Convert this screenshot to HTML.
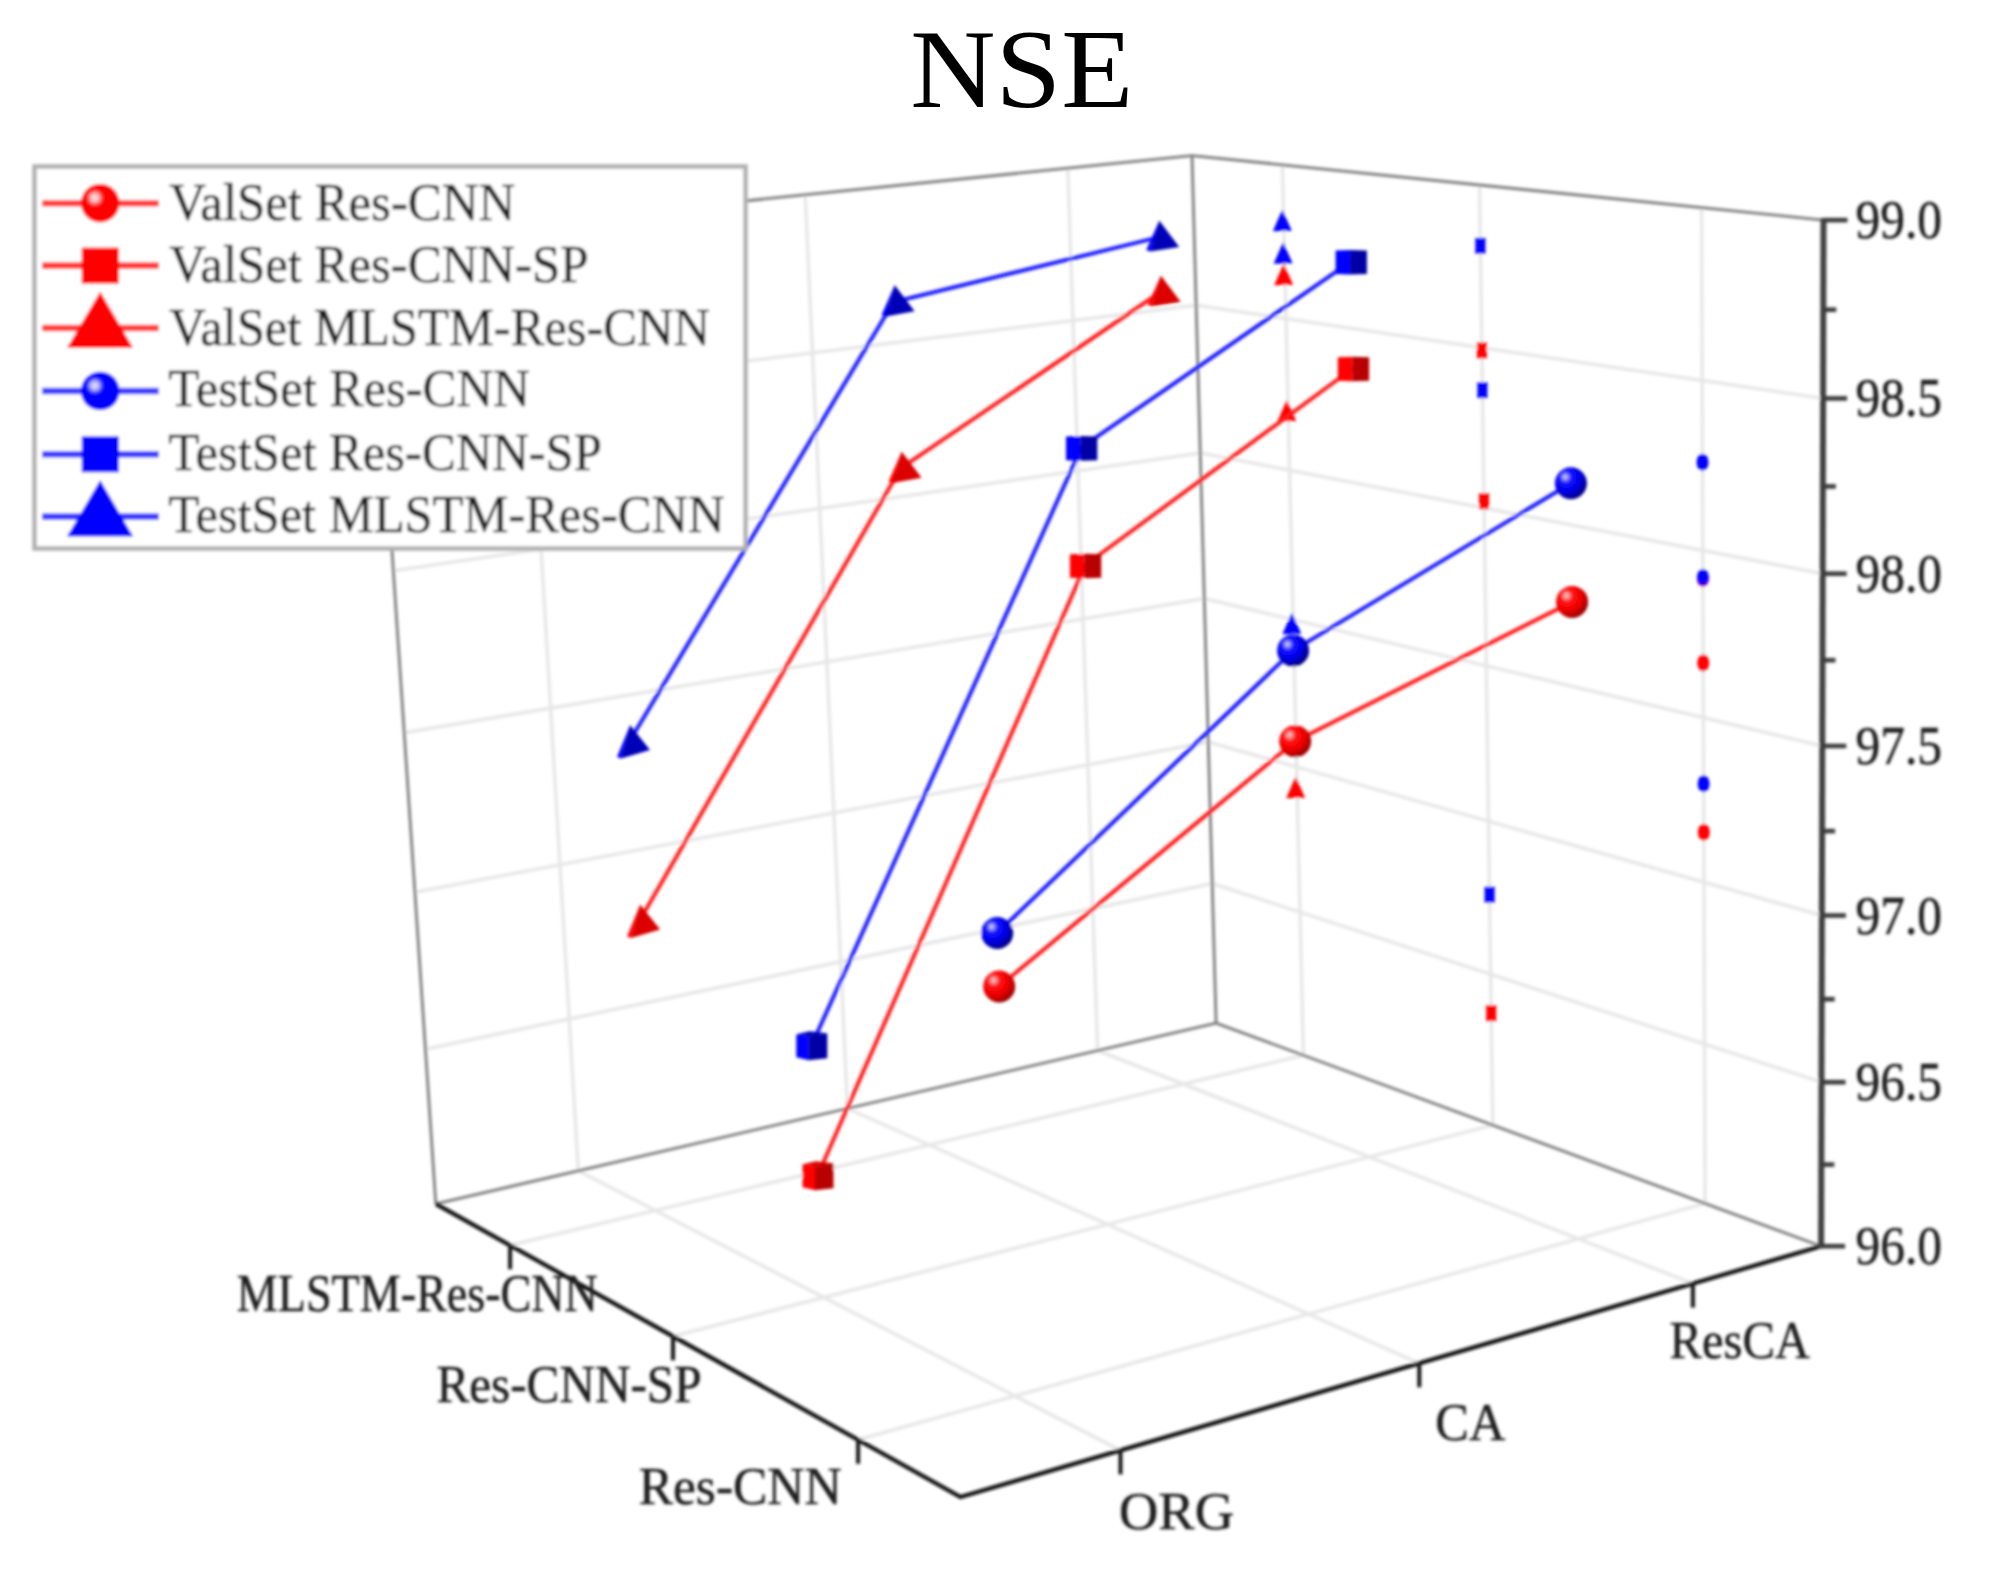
<!DOCTYPE html>
<html><head><meta charset="utf-8"><title>NSE</title>
<style>
html,body{margin:0;padding:0;background:#fff}
svg{display:block}
text{font-family:"Liberation Serif","Times New Roman",serif;fill:#1c1c1c;stroke:#1c1c1c;stroke-width:0.5}
.ti{fill:#000;stroke:none}
.g{stroke:#e7e7e7;stroke-width:3.5}
.e{stroke:#7c7c7c;stroke-width:2.8}
.ax{stroke:#111;stroke-width:4.2;fill:none;stroke-linejoin:miter}
.zx{stroke:#404040;stroke-width:6}
.tk{stroke:#161616;stroke-width:4}
.zt{stroke:#3a3a3a;stroke-width:4.6}
</style></head><body>
<svg width="1998" height="1595" viewBox="0 0 1998 1595">
<defs>
<radialGradient id="gr" cx="0.36" cy="0.34" r="0.7" fx="0.32" fy="0.3"><stop offset="0" stop-color="#ffd8d8"/><stop offset="0.12" stop-color="#ff9090"/><stop offset="0.28" stop-color="#ff1010"/><stop offset="0.62" stop-color="#f00000"/><stop offset="1" stop-color="#900000"/></radialGradient>
<radialGradient id="gb" cx="0.36" cy="0.34" r="0.7" fx="0.32" fy="0.3"><stop offset="0" stop-color="#d8d8ff"/><stop offset="0.12" stop-color="#9090ff"/><stop offset="0.28" stop-color="#1010ff"/><stop offset="0.62" stop-color="#0000e8"/><stop offset="1" stop-color="#000078"/></radialGradient>
<radialGradient id="lr" cx="0.36" cy="0.36" r="0.7" fx="0.36" fy="0.36"><stop offset="0" stop-color="#ffe8e8"/><stop offset="0.16" stop-color="#ffb0b0"/><stop offset="0.34" stop-color="#ff0000"/><stop offset="1" stop-color="#ff0000"/></radialGradient>
<radialGradient id="lb" cx="0.36" cy="0.36" r="0.7" fx="0.36" fy="0.36"><stop offset="0" stop-color="#e8e8ff"/><stop offset="0.16" stop-color="#b0b0ff"/><stop offset="0.34" stop-color="#0000ff"/><stop offset="1" stop-color="#0000ff"/></radialGradient>
<filter id="bl" x="0" y="0" width="100%" height="100%" filterUnits="userSpaceOnUse"><feGaussianBlur stdDeviation="1.4"/></filter>
</defs>
<rect width="1998" height="1595" fill="#fff"/>
<g filter="url(#bl)">
<g id="grid"><line x1="1120.5" y1="1450.4" x2="578.3" y2="1170.8" class="g"/>
<line x1="858.1" y1="1439.8" x2="1705.1" y2="1203.4" class="g"/>
<line x1="578.3" y1="1170.8" x2="521.6" y2="223.6" class="g"/>
<line x1="1705.1" y1="1203.4" x2="1701.6" y2="207.7" class="g"/>
<line x1="1419.3" y1="1363.3" x2="847.5" y2="1108.5" class="g"/>
<line x1="673" y1="1336.3" x2="1492.8" y2="1125.1" class="g"/>
<line x1="847.5" y1="1108.5" x2="805.2" y2="194.8" class="g"/>
<line x1="1492.8" y1="1125.1" x2="1479.5" y2="185" class="g"/>
<line x1="1692.9" y1="1283.6" x2="1097.6" y2="1050.5" class="g"/>
<line x1="510.1" y1="1245.3" x2="1303.4" y2="1055.3" class="g"/>
<line x1="1097.6" y1="1050.5" x2="1067.8" y2="168.2" class="g"/>
<line x1="1303.4" y1="1055.3" x2="1282.4" y2="164.8" class="g"/>
<line x1="425.5" y1="1049.2" x2="1212.2" y2="883.5" class="g"/>
<line x1="1212.2" y1="883.5" x2="1821.5" y2="1082.2" class="g"/>
<line x1="414.9" y1="892.2" x2="1208.3" y2="742" class="g"/>
<line x1="1208.3" y1="742" x2="1821.9" y2="915.5" class="g"/>
<line x1="404.2" y1="732.7" x2="1204.3" y2="598.5" class="g"/>
<line x1="1204.3" y1="598.5" x2="1822.3" y2="746" class="g"/>
<line x1="393.3" y1="570.7" x2="1200.2" y2="452.9" class="g"/>
<line x1="1200.2" y1="452.9" x2="1822.7" y2="573.7" class="g"/>
<line x1="382.3" y1="406.1" x2="1196.1" y2="305.3" class="g"/>
<line x1="1196.1" y1="305.3" x2="1823.1" y2="398.4" class="g"/></g>
<g id="edges"><line x1="435.8" y1="1203.8" x2="1216.1" y2="1023.1" class="e"/>
<line x1="1216.1" y1="1023.1" x2="1821.1" y2="1246.2" class="e"/>
<line x1="1216.1" y1="1023.1" x2="1192" y2="155.6" class="e"/>
<line x1="435.8" y1="1203.8" x2="371.1" y2="238.8" class="e"/>
<line x1="371.1" y1="238.8" x2="1192" y2="155.6" class="e"/>
<line x1="1192" y1="155.6" x2="1823.5" y2="220.1" class="e"/></g>
<g id="axes"><polyline points="435.8,1203.8 960.5,1497 1821.1,1246.2" class="ax"/>
<line x1="1821.1" y1="1248.2" x2="1823.5" y2="218.1" class="zx"/>
<line x1="1120.5" y1="1449.4" x2="1120.5" y2="1474.4" class="tk"/>
<line x1="858.1" y1="1438.8" x2="858.1" y2="1463.8" class="tk"/>
<line x1="1419.3" y1="1362.3" x2="1419.3" y2="1387.3" class="tk"/>
<line x1="673" y1="1335.3" x2="673" y2="1360.3" class="tk"/>
<line x1="1692.9" y1="1282.6" x2="1692.9" y2="1307.6" class="tk"/>
<line x1="510.1" y1="1244.3" x2="510.1" y2="1269.3" class="tk"/>
<line x1="1821.1" y1="1246.2" x2="1845.1" y2="1246.2" class="zt"/>
<line x1="1821.3" y1="1164.6" x2="1834.3" y2="1164.6" class="zt"/>
<line x1="1821.5" y1="1082.2" x2="1845.5" y2="1082.2" class="zt"/>
<line x1="1821.7" y1="999.2" x2="1834.7" y2="999.2" class="zt"/>
<line x1="1821.9" y1="915.5" x2="1845.9" y2="915.5" class="zt"/>
<line x1="1822.1" y1="831.1" x2="1835.1" y2="831.1" class="zt"/>
<line x1="1822.3" y1="746" x2="1846.3" y2="746" class="zt"/>
<line x1="1822.5" y1="660.2" x2="1835.5" y2="660.2" class="zt"/>
<line x1="1822.7" y1="573.7" x2="1846.7" y2="573.7" class="zt"/>
<line x1="1822.9" y1="486.4" x2="1835.9" y2="486.4" class="zt"/>
<line x1="1823.1" y1="398.4" x2="1847.1" y2="398.4" class="zt"/>
<line x1="1823.3" y1="309.7" x2="1836.3" y2="309.7" class="zt"/>
<line x1="1823.5" y1="220.1" x2="1847.5" y2="220.1" class="zt"/></g>
<g id="labels"><text x="1855.5" y="1264.2" font-size="54" text-anchor="start" class="lb" textLength="86.5" lengthAdjust="spacingAndGlyphs">96.0</text>
<text x="1855.5" y="1100.2" font-size="54" text-anchor="start" class="lb" textLength="86.5" lengthAdjust="spacingAndGlyphs">96.5</text>
<text x="1855.5" y="933.5" font-size="54" text-anchor="start" class="lb" textLength="86.5" lengthAdjust="spacingAndGlyphs">97.0</text>
<text x="1855.5" y="764" font-size="54" text-anchor="start" class="lb" textLength="86.5" lengthAdjust="spacingAndGlyphs">97.5</text>
<text x="1855.5" y="591.7" font-size="54" text-anchor="start" class="lb" textLength="86.5" lengthAdjust="spacingAndGlyphs">98.0</text>
<text x="1855.5" y="416.4" font-size="54" text-anchor="start" class="lb" textLength="86.5" lengthAdjust="spacingAndGlyphs">98.5</text>
<text x="1855.5" y="238.1" font-size="54" text-anchor="start" class="lb" textLength="86.5" lengthAdjust="spacingAndGlyphs">99.0</text>
<text x="236.8" y="1311.3" font-size="53" text-anchor="start" class="lb" textLength="361" lengthAdjust="spacingAndGlyphs">MLSTM-Res-CNN</text>
<text x="436.5" y="1401.5" font-size="53" text-anchor="start" class="lb" textLength="265" lengthAdjust="spacingAndGlyphs">Res-CNN-SP</text>
<text x="638.7" y="1504" font-size="53" text-anchor="start" class="lb" textLength="203" lengthAdjust="spacingAndGlyphs">Res-CNN</text>
<text x="1119" y="1529.4" font-size="53" text-anchor="start" class="lb" textLength="115" lengthAdjust="spacingAndGlyphs">ORG</text>
<text x="1435.3" y="1440.4" font-size="53" text-anchor="start" class="lb" textLength="70" lengthAdjust="spacingAndGlyphs">CA</text>
<text x="1669.5" y="1357.6" font-size="53" text-anchor="start" class="lb" textLength="140.5" lengthAdjust="spacingAndGlyphs">ResCA</text></g>
<g id="proj"><ellipse cx="1703.8" cy="832.2" rx="6" ry="8.5" fill="#ff0000"/>
<ellipse cx="1703.2" cy="663" rx="6" ry="8.5" fill="#ff0000"/>
<ellipse cx="1702.9" cy="578.6" rx="6" ry="8.5" fill="#ff0000"/>
<ellipse cx="1703.6" cy="783.8" rx="6" ry="8.5" fill="#0000ff"/>
<ellipse cx="1702.9" cy="577.6" rx="6" ry="8.5" fill="#0000ff"/>
<ellipse cx="1702.5" cy="462.2" rx="6" ry="8.5" fill="#0000ff"/>
<rect x="1486.2" y="1005.2" width="10" height="16" fill="#ff0000"/>
<rect x="1479" y="493.2" width="10" height="16" fill="#ff0000"/>
<rect x="1476.9" y="342.5" width="10" height="16" fill="#ff0000"/>
<rect x="1484.6" y="886.7" width="10" height="16" fill="#0000ff"/>
<rect x="1477.4" y="382.2" width="10" height="16" fill="#0000ff"/>
<rect x="1475.4" y="237.8" width="10" height="16" fill="#0000ff"/>
<polygon points="1295.6,776.8 1286.1,798.3 1305.1,797.8" fill="#ff0000"/>
<polygon points="1286.8,399.9 1277.3,421.4 1296.3,420.9" fill="#ff0000"/>
<polygon points="1283.6,263.8 1274.1,285.3 1293.1,284.8" fill="#ff0000"/>
<polygon points="1291.8,612.7 1282.3,634.2 1301.3,633.7" fill="#0000ff"/>
<polygon points="1283.1,242.3 1273.6,263.8 1292.6,263.3" fill="#0000ff"/>
<polygon points="1282.3,209.7 1272.8,231.2 1291.8,230.7" fill="#0000ff"/></g>
<g id="lines"><polyline points="999.2,986.5 1295.2,741.2 1572.1,601.9" fill="none" stroke="#ff1c1c" stroke-width="4"/>
<polyline points="997.2,933 1293.1,650.5 1570.9,483.2" fill="none" stroke="#1c1cff" stroke-width="4"/>
<polyline points="818,1174.8 1085.4,565 1353.3,368" fill="none" stroke="#ff1c1c" stroke-width="4"/>
<polyline points="811.8,1044.8 1081.5,447.4 1351.1,261.3" fill="none" stroke="#1c1cff" stroke-width="4"/>
<polyline points="639.1,921.4 900.6,468.4 1159.8,292.5" fill="none" stroke="#ff1c1c" stroke-width="4"/>
<polyline points="629,742 893.6,302 1158.2,237.4" fill="none" stroke="#1c1cff" stroke-width="4"/></g>
<g id="markers"><circle cx="999.2" cy="986.5" r="16" fill="url(#gr)"/>
<circle cx="1295.2" cy="741.2" r="16" fill="url(#gr)"/>
<circle cx="1572.1" cy="601.9" r="16" fill="url(#gr)"/>
<circle cx="997.2" cy="933" r="16" fill="url(#gb)"/>
<circle cx="1293.1" cy="650.5" r="16" fill="url(#gb)"/>
<circle cx="1570.9" cy="483.2" r="16" fill="url(#gb)"/>
<polygon points="802.5,1164.3 816,1161.3 833.5,1163.3 815,1166.3" fill="#dc0000"/><polygon points="802.5,1164.3 815,1166.3 815,1190.3 802.5,1187.3" fill="#ff0000"/><polygon points="815,1166.3 833.5,1163.3 833.5,1188.3 815,1190.3" fill="#b80000"/>
<polygon points="1069.9,554.2 1084.4,553.7 1084.4,578.3 1069.9,577.8" fill="#ff0000"/><polygon points="1084.4,553.7 1101.2,554.2 1101.2,577.8 1084.4,578.3" fill="#b80000"/>
<polygon points="1337.8,357.2 1352.3,356.7 1352.3,381.3 1337.8,380.8" fill="#ff0000"/><polygon points="1352.3,356.7 1369.1,357.2 1369.1,380.8 1352.3,381.3" fill="#b80000"/>
<polygon points="796.3,1034.3 809.8,1031.3 827.3,1033.3 808.8,1036.3" fill="#0000b8"/><polygon points="796.3,1034.3 808.8,1036.3 808.8,1060.3 796.3,1057.3" fill="#0000ff"/><polygon points="808.8,1036.3 827.3,1033.3 827.3,1058.3 808.8,1060.3" fill="#0000a4"/>
<polygon points="1066,436.6 1080.5,436.1 1080.5,460.7 1066,460.2" fill="#0000ff"/><polygon points="1080.5,436.1 1097.3,436.6 1097.3,460.2 1080.5,460.7" fill="#0000a4"/>
<polygon points="1335.6,250.5 1350.1,250 1350.1,274.6 1335.6,274.1" fill="#0000ff"/><polygon points="1350.1,250 1366.9,250.5 1366.9,274.1 1350.1,274.6" fill="#0000a4"/>
<polygon points="640.1,904.4 627.1,936.4 631.1,937.9" fill="#ff0000"/><polygon points="640.1,904.4 631.1,937.9 660.1,929.5" fill="#dc0000"/>
<polygon points="901.6,451.4 888.6,481.4 892.6,482.9" fill="#ff0000"/><polygon points="901.6,451.4 892.6,482.9 921.6,477.7" fill="#dc0000"/>
<polygon points="1160.8,275.5 1147.8,305 1151.8,306.5" fill="#ff0000"/><polygon points="1160.8,275.5 1151.8,306.5 1180.8,302.1" fill="#dc0000"/>
<polygon points="630,725 617,757 621,758.5" fill="#0000ff"/><polygon points="630,725 621,758.5 650,750.1" fill="#0000b8"/>
<polygon points="894.6,285 881.6,315 885.6,316.5" fill="#0000ff"/><polygon points="894.6,285 885.6,316.5 914.6,311.3" fill="#0000b8"/>
<polygon points="1159.2,220.4 1146.2,249.9 1150.2,251.4" fill="#0000ff"/><polygon points="1159.2,220.4 1150.2,251.4 1179.2,247" fill="#0000b8"/></g>
<g id="legend"><rect x="34.5" y="166.5" width="711" height="382" fill="#fff" stroke="#b0b0b0" stroke-width="4.5"/>
<line x1="42" y1="203.2" x2="158.8" y2="203.2" stroke="#ff3a3a" stroke-width="6.6"/>
<circle cx="100.2" cy="203.2" r="19.3" fill="url(#lr)"/>
<text x="169.3" y="219.8" font-size="52" text-anchor="start" class="lb" textLength="345.8" lengthAdjust="spacingAndGlyphs">ValSet Res-CNN</text>
<line x1="42" y1="265.6" x2="158.8" y2="265.6" stroke="#ff3a3a" stroke-width="6.6"/>
<rect x="81.7" y="247.6" width="37.3" height="36" fill="#ff0000"/>
<text x="169.3" y="282.2" font-size="52" text-anchor="start" class="lb" textLength="419.1" lengthAdjust="spacingAndGlyphs">ValSet Res-CNN-SP</text>
<line x1="42" y1="328" x2="158.8" y2="328" stroke="#ff3a3a" stroke-width="6.6"/>
<polygon points="100.2,291.5 67,348 133.2,348" fill="#ff0000"/>
<text x="169.3" y="344.6" font-size="52" text-anchor="start" class="lb" textLength="540.8" lengthAdjust="spacingAndGlyphs">ValSet MLSTM-Res-CNN</text>
<line x1="42" y1="391" x2="158.8" y2="391" stroke="#3a3aff" stroke-width="6.6"/>
<circle cx="100.2" cy="391" r="19.3" fill="url(#lb)"/>
<text x="168.2" y="406.2" font-size="52" text-anchor="start" class="lb" textLength="361.6" lengthAdjust="spacingAndGlyphs">TestSet Res-CNN</text>
<line x1="42" y1="454.3" x2="158.8" y2="454.3" stroke="#3a3aff" stroke-width="6.6"/>
<rect x="81.7" y="436.3" width="37.3" height="36" fill="#0000ff"/>
<text x="168.2" y="469.5" font-size="52" text-anchor="start" class="lb" textLength="433.7" lengthAdjust="spacingAndGlyphs">TestSet Res-CNN-SP</text>
<line x1="42" y1="516.6" x2="158.8" y2="516.6" stroke="#3a3aff" stroke-width="6.6"/>
<polygon points="100.2,480.1 67,536.6 133.2,536.6" fill="#0000ff"/>
<text x="168.2" y="531.8" font-size="52" text-anchor="start" class="lb" textLength="556.2" lengthAdjust="spacingAndGlyphs">TestSet MLSTM-Res-CNN</text></g>
</g>
<text x="910.3" y="107" font-size="113" class="ti" textLength="223" lengthAdjust="spacingAndGlyphs">NSE</text>
</svg>
</body></html>
